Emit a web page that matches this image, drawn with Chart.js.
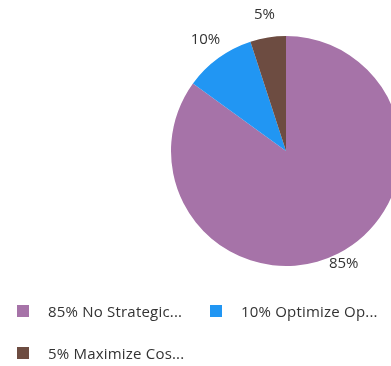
<!DOCTYPE html>
<html>
<head>
<meta charset="utf-8">
<script src="https://cdn.jsdelivr.net/npm/chart.js@4/dist/chart.umd.min.js"></script>
<style>
    html, body {
        margin: 0;
        padding: 0;
        width: 391px;
        height: 366px;
        overflow: hidden;
        background: #fff;
        font-family: "Open Sans", sans-serif;
    }
    #chartBox {
        position: absolute;
        left: 0;
        top: 0;
        width: 572px;
        height: 302px;
    }
    #legend {
        position: absolute;
        left: 17px;
        top: 300px;
        width: 420px;
    }
    .item {
        display: inline-flex;
        align-items: center;
        width: 193px;
        height: 22px;
        margin-bottom: 20px;
        font-size: 15px;
        letter-spacing: 0.2px;
        color: #333;
        white-space: nowrap;
    }
    .box {
        width: 12px;
        height: 12px;
        margin-right: 19px;
        flex: none;
    }
</style>
</head>
<body>
<div id="chartBox"><canvas id="myChart"></canvas></div>
<div id="legend"></div>

<script>
let labels = ['85% No Strategic...', '10% Optimize Op...', '5% Maximize Cos...'];
let values = [85, 10, 5];
let valueLabels = ['85%', '10%', '5%'];
let colors = ['#a673a8', '#2196f3', '#6d4c41'];

// per-slice distance of the value text from the rim
let labelOffsets = [12, 22, 23];

let outsideLabels = {
    id: 'outsideLabels',
    afterDatasetsDraw(chart) {
        const ctx = chart.ctx;
        const arcs = chart.getDatasetMeta(0).data;
        ctx.save();
        ctx.font = '15px "Open Sans", sans-serif';
        ctx.fillStyle = '#333';
        ctx.textAlign = 'center';
        ctx.textBaseline = 'middle';
        for (let i = 0; i < arcs.length; i++) {
            const a = arcs[i];
            const mid = (a.startAngle + a.endAngle) / 2;
            const r = a.outerRadius + labelOffsets[i];
            ctx.fillText(valueLabels[i], a.x + Math.cos(mid) * r, a.y + Math.sin(mid) * r);
        }
        ctx.restore();
    }
};

function addLegend() {
    const legend = document.getElementById('legend');
    for (let i = 0; i < labels.length; i++) {
        const item = document.createElement('div');
        item.className = 'item';
        item.innerHTML = '<span class="box" style="background:' + colors[i] + '"></span>' + labels[i];
        legend.appendChild(item);
    }
}

function addChart() {
    const ctx = document.getElementById('myChart');

    new Chart(ctx, {
        type: 'pie',
        data: {
            labels: labels,
            datasets: [{
                data: values,
                backgroundColor: colors,
                borderWidth: 0,
            }]
        },
        options: {
            responsive: true,
            maintainAspectRatio: false,
            animation: false,
            layout: {
                padding: { top: 36, bottom: 36 }
            },
            plugins: {
                legend: { display: false },
                tooltip: { enabled: false }
            }
        },
        plugins: [outsideLabels]
    });
}

addLegend();
addChart();
</script>
</body>
</html>
